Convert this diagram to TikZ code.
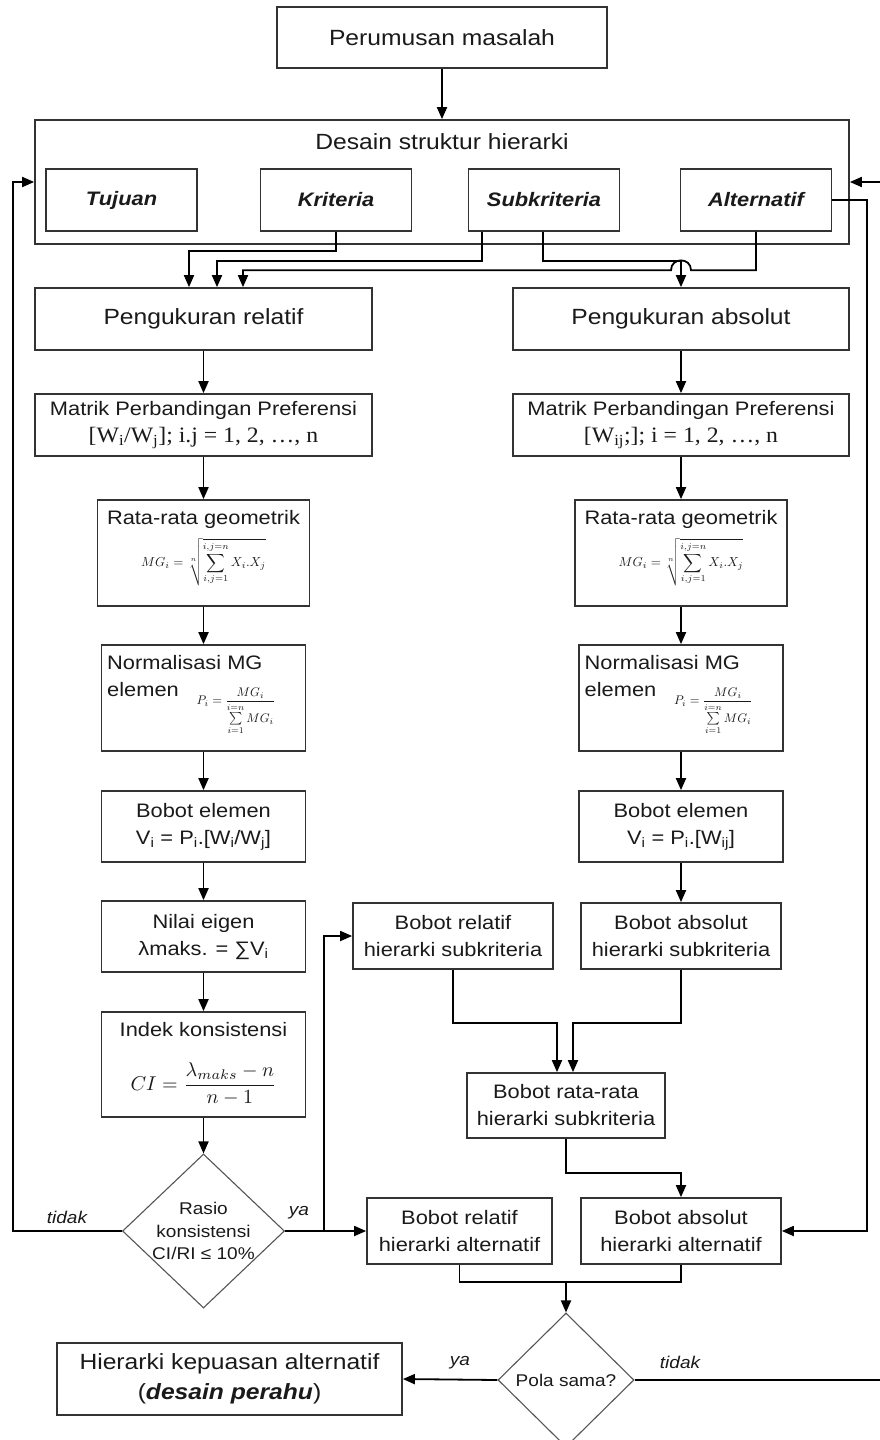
\documentclass[tikz,border=0pt]{standalone}
\usepackage{graphicx}
\usepackage{fontspec}
\setmainfont{Liberation Sans}[FakeStretch=1.12]
\newfontfamily\timesfam{Liberation Serif}[FakeStretch=1.08]
\usetikzlibrary{arrows.meta,shapes.geometric,calc}

\definecolor{boxline}{HTML}{333333}
\definecolor{ink}{HTML}{1A1A1A}
\definecolor{diaGray}{HTML}{555555}

\newcommand\szbig{\fontsize{22}{30}\selectfont}
\newcommand\szmed{\fontsize{19.5}{27}\selectfont}
\newcommand\szsml{\fontsize{17}{22.5}\selectfont}

\begin{document}
\begin{tikzpicture}[x=1pt,y=-1pt,
  box/.style={draw=boxline, line width=1.7pt, fill=white, inner sep=0pt, text=ink, align=center},
  dia/.style={draw=diaGray, line width=1.1pt, diamond, inner sep=0pt, fill=white},
  txt/.style={inner sep=0pt, text=ink, align=center},
  conn/.style={line width=1.8pt, draw=black},
  arr/.style={conn, -{Triangle[length=12pt,width=10pt]}},
]
\fill[white] (0,0) rectangle (879,1440);
\useasboundingbox (0,0) rectangle (879,1440);

% ---------- top: problem statement and hierarchy design ----------
\node[box, font=\szbig, minimum width=330pt, minimum height=61pt] (perumusan) at (442,37.5) {Perumusan masalah};
\node[box, minimum width=814pt, minimum height=124pt] (desain) at (442,182) {};
\node[txt, font=\szbig] (desaintitle) at (442,142) {Desain struktur hierarki};
\begin{scope}[every node/.style={box, font=\szmed\bfseries\itshape, minimum width=151pt, minimum height=62pt}]
  \node (tujuan)   at (121.5,200) {Tujuan};
  \node (kriteria) at (336,200)   {Kriteria};
  \node (subkrit)  at (544,200)   {Subkriteria};
  \node (altern)   at (756,200)   {Alternatif};
\end{scope}

% ---------- measurement branches ----------
\node[box, font=\szbig, minimum width=337pt, minimum height=62pt] (relatif) at (203.5,319) {Pengukuran relatif};
\node[box, font=\szbig, minimum width=336pt, minimum height=62pt] (absolut) at (681,319) {Pengukuran absolut};

\node[box, font=\szmed, minimum width=337pt, minimum height=62pt] (matrikL) at (203.5,425)
  {Matrik Perbandingan Preferensi\\{\timesfam\fontsize{22}{27}\selectfont [W\textsubscript{i}/W\textsubscript{j}]; i.j = 1, 2, …, n}};
\node[box, font=\szmed, minimum width=336pt, minimum height=62pt] (matrikR) at (681,425)
  {Matrik Perbandingan Preferensi\\{\timesfam\fontsize{22}{27}\selectfont [W\textsubscript{ij};]; i = 1, 2, …, n}};

% geometric mean
\node[box, minimum width=212pt, minimum height=106pt] (rataL) at (203.5,553) {};
\node[txt, font=\szmed] (rataLt) at (203.5,519) {Rata-rata geometrik};
\node[txt] (rataLf) at (203.5,562)
  {\scalebox{1.3}{$\displaystyle MG_i=\sqrt[n]{\sum_{i,j=1}^{i,j=n}X_i.X_j}$}};
\node[box, minimum width=212pt, minimum height=106pt] (rataR) at (681,553) {};
\node[txt, font=\szmed] (rataRt) at (681,519) {Rata-rata geometrik};
\node[txt] (rataRf) at (681,562)
  {\scalebox{1.3}{$\displaystyle MG_i=\sqrt[n]{\sum_{i,j=1}^{i,j=n}X_i.X_j}$}};

% normalisation
\node[box, minimum width=204pt, minimum height=106pt] (normL) at (203.5,698) {};
\node[txt, font=\szmed, anchor=west, align=left] (normLt) at (107,676.5) {Normalisasi MG\\elemen};
\node[txt] (normLf) at (236,711)
  {\scalebox{1.25}{$\displaystyle P_i=\frac{MG_i}{\sum\limits_{i=1}^{i=n}MG_i}$}};
\node[box, minimum width=204pt, minimum height=106pt] (normR) at (681,698) {};
\node[txt, font=\szmed, anchor=west, align=left] (normRt) at (584.5,676.5) {Normalisasi MG\\elemen};
\node[txt] (normRf) at (713.5,711)
  {\scalebox{1.25}{$\displaystyle P_i=\frac{MG_i}{\sum\limits_{i=1}^{i=n}MG_i}$}};

% element weights
\node[box, font=\szmed, minimum width=204pt, minimum height=71pt] (bobotL) at (203.5,826.5)
  {Bobot elemen\\V\textsubscript{i} = P\textsubscript{i}.[W\textsubscript{i}/W\textsubscript{j}]};
\node[box, font=\szmed, minimum width=204pt, minimum height=71pt] (bobotR) at (681,826.5)
  {Bobot elemen\\V\textsubscript{i} = P\textsubscript{i}.[W\textsubscript{ij}]};

% eigen value and consistency
\node[box, font=\szmed, minimum width=204pt, minimum height=71pt] (nilai) at (203.5,936.5)
  {Nilai eigen\\λmaks. = ∑V\textsubscript{i}};
\node[box, minimum width=204pt, minimum height=105pt] (indek) at (203.5,1064.5) {};
\node[txt, font=\szmed] (indekt) at (203.5,1030) {Indek konsistensi};
\node[txt] (indekf) at (203.5,1084)
  {\scalebox{2.0}{$\displaystyle CI=\frac{\lambda_{maks}-n}{n-1}$}};

\node[dia, minimum width=162pt, minimum height=154pt] (rasio) at (203.5,1231) {};
\node[txt, font=\szsml] (rasiot) at (rasio.center) {Rasio\\konsistensi\\CI/RI ≤ 10\%};

% hierarchy weights
\node[box, font=\szmed, minimum width=200pt, minimum height=66pt] (brsub) at (453,936) {Bobot relatif\\hierarki subkriteria};
\node[box, font=\szmed, minimum width=200pt, minimum height=66pt] (basub) at (681,936) {Bobot absolut\\hierarki subkriteria};
\node[box, font=\szmed, minimum width=198pt, minimum height=65pt] (brata) at (566,1105.5) {Bobot rata-rata\\hierarki subkriteria};
\node[box, font=\szmed, minimum width=185pt, minimum height=66pt] (bralt) at (459.5,1231) {Bobot relatif\\hierarki alternatif};
\node[box, font=\szmed, minimum width=200pt, minimum height=66pt] (baalt) at (681,1231) {Bobot absolut\\hierarki alternatif};

\node[dia, minimum width=136pt, minimum height=134pt] (pola) at (566,1380) {};
\node[txt, font=\szsml] (polat) at (pola.center) {Pola sama?};

\node[box, font=\szbig, minimum width=345pt, minimum height=72pt] (hasil) at (229.5,1379)
  {Hierarki kepuasan alternatif\\(\textbf{\textit{desain perahu}})};

% branch labels
\node[txt, font=\szsml\itshape] (tidakA) at (67,1217) {tidak};
\node[txt, font=\szsml\itshape] (yaA) at (299,1213) {ya};
\node[txt, font=\szsml\itshape] (yaB) at (460,1363) {ya};
\node[txt, font=\szsml\itshape] (tidakB) at (680,1362) {tidak};

% ---------- connectors ----------
\draw[arr] (perumusan.south) -- (desain.north);
\draw[arr] (kriteria.south) -- ++(0,19) -| ($(relatif.north)+(-14.5,0)$);
\draw[arr] ($(subkrit.south)+(-62,0)$) -- ++(0,29) -| ($(relatif.north)+(13.5,0)$);
\draw[arr] ($(subkrit.south)+(-1,0)$) -- ++(0,29) -| (absolut.north);
\coordinate (hopR) at ($(absolut.north)+(10,-17)$);
\coordinate (hopL) at ($(absolut.north)+(-10,-17)$);
\draw[arr] (altern.south) |- (hopR) .. controls ($(hopR)+(0,-13)$) and ($(hopL)+(0,-13)$) .. (hopL)
  -| ($(relatif.north)+(39.5,0)$);

\foreach \a/\b in {relatif/matrikL, matrikL/rataL, rataL/normL, normL/bobotL, bobotL/nilai, nilai/indek, indek/rasio,
                   absolut/matrikR, matrikR/rataR, rataR/normR, normR/bobotR, bobotR/basub}
  \draw[arr] (\a.south) -- (\b.north);

% feedback loops
\draw[arr] (rasio.west) -- ++(-109,0) |- (desain.west);
\draw[arr] (pola.east) -- ++(250,0) |- (desain.east);
\draw[arr] (altern.east) -- ++(35,0) |- (baalt.east);

% consistent branch
\draw[arr] (rasio.east) -- (bralt.west);
\coordinate (yasplit) at ($(rasio.east)+(39,0)$);
\draw[arr] (yasplit) |- (brsub.west);

% combining weights
\draw[arr] (brsub.south) -- ++(0,53) -| ($(brata.north)+(-9,0)$);
\draw[arr] (basub.south) -- ++(0,53) -| ($(brata.north)+(7,0)$);
\draw[arr] (brata.south) -- ++(0,34) -| (baalt.north);
\draw[conn] (bralt.south) -- ++(0,17) -| (baalt.south);
\coordinate (pmerge) at ($(bralt.south)+(0,17)$);
\draw[arr] (pmerge -| pola.north) -- (pola.north);
\draw[arr] (pola.west) -- (hasil.east);
\end{tikzpicture}
\end{document}
